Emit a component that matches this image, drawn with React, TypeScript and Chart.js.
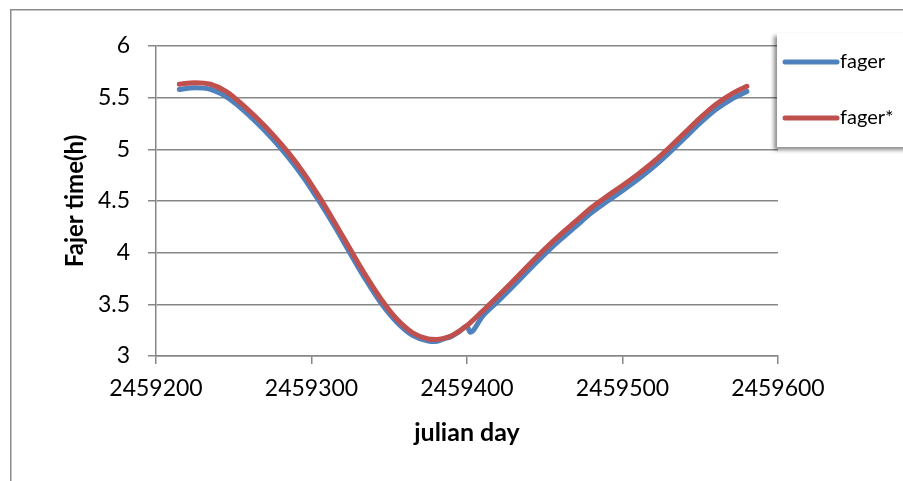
import React, { useEffect, useRef } from "react";
import { Chart, registerables } from "chart.js";

Chart.register(...registerables);

const days: number[] = [
  2459215, 2459225, 2459235, 2459245, 2459255, 2459265, 2459275, 2459285, 2459295, 2459305,
  2459315, 2459325, 2459335, 2459345, 2459355, 2459365, 2459375, 2459380, 2459385, 2459390,
  2459395, 2459400, 2459402, 2459410, 2459420, 2459430, 2459440, 2459450, 2459460, 2459470,
  2459480, 2459490, 2459500, 2459510, 2459520, 2459530, 2459540, 2459550, 2459560, 2459570,
  2459580,
];

const fager: number[] = [
  5.58, 5.595, 5.58, 5.51, 5.395, 5.255, 5.1, 4.925, 4.725, 4.495,
  4.25, 3.99, 3.735, 3.505, 3.325, 3.2, 3.145, 3.14, 3.165, 3.19,
  3.235, 3.29, 3.23, 3.385, 3.53, 3.68, 3.835, 3.985, 4.125, 4.255,
  4.385, 4.495, 4.6, 4.71, 4.83, 4.965, 5.11, 5.255, 5.385, 5.485,
  5.56,
];

const fagerStar: number[] = [
  5.63, 5.645, 5.63, 5.56, 5.44, 5.3, 5.145, 4.97, 4.77, 4.54,
  4.29, 4.03, 3.775, 3.545, 3.355, 3.225, 3.165, 3.16, 3.17, 3.195,
  3.24, 3.295, 3.32, 3.435, 3.58, 3.73, 3.885, 4.035, 4.175, 4.305,
  4.435, 4.545, 4.65, 4.76, 4.88, 5.015, 5.16, 5.305, 5.435, 5.535,
  5.61,
];

const seriesNames = ["fager", "fager*"];
const seriesColors = ["#4F81BD", "#C0504D"];
const xTitle = "julian day";
const yTitle = "Fajer time(h)";

const FONT = "Lato, 'Open Sans', sans-serif";
const GRID = "#878787";

const framePlugin = {
  id: "frame",
  beforeDraw(chart: any) {
    const ctx = chart.ctx;
    ctx.save();
    ctx.fillStyle = "#ffffff";
    ctx.fillRect(0, 0, chart.width, chart.height);
    ctx.strokeStyle = "#8c8c8c";
    ctx.lineWidth = 1.5;
    ctx.strokeRect(10.75, 9.75, 1000, 1000);
    ctx.restore();
  },
};

const legendPlugin = {
  id: "customLegend",
  afterDraw(chart: any) {
    const ctx = chart.ctx;
    ctx.save();
    ctx.shadowColor = "rgba(0,0,0,0.45)";
    ctx.shadowBlur = 4;
    ctx.shadowOffsetX = -3;
    ctx.shadowOffsetY = 3;
    ctx.fillStyle = "#ffffff";
    ctx.fillRect(777, 33, 140, 114);
    ctx.restore();
    ctx.save();
    const rows = [62, 118];
    rows.forEach((y, i) => {
      ctx.strokeStyle = seriesColors[i];
      ctx.lineWidth = 5;
      ctx.lineCap = "round";
      ctx.beginPath();
      ctx.moveTo(785, y);
      ctx.lineTo(837, y);
      ctx.stroke();
      ctx.fillStyle = "#000000";
      ctx.font = `20px ${FONT}`;
      ctx.textBaseline = "middle";
      ctx.textAlign = "left";
      ctx.fillText(seriesNames[i], 840, y);
    });
    ctx.restore();
  },
};

export default function App() {
  const ref = useRef<HTMLCanvasElement | null>(null);
  useEffect(() => {
    if (!ref.current) return;
    const mk = (vals: number[]) => days.map((d, i) => ({ x: d, y: vals[i] }));
    const chart = new Chart(ref.current, {
      type: "line",
      data: {
        datasets: [
          {
            label: seriesNames[0],
            data: mk(fager),
            borderColor: seriesColors[0],
            backgroundColor: seriesColors[0],
            borderWidth: 5,
            pointRadius: 0,
            cubicInterpolationMode: "monotone",
            borderCapStyle: "round",
            borderJoinStyle: "round",
            order: 1,
          },
          {
            label: seriesNames[1],
            data: mk(fagerStar),
            borderColor: seriesColors[1],
            backgroundColor: seriesColors[1],
            borderWidth: 5,
            pointRadius: 0,
            cubicInterpolationMode: "monotone",
            borderCapStyle: "round",
            borderJoinStyle: "round",
            order: 0,
          },
        ],
      },
      options: {
        responsive: false,
        animation: false,
        layout: { padding: { left: 0, right: 125, top: 46, bottom: 0 } },
        plugins: { legend: { display: false }, tooltip: { enabled: false } },
        scales: {
          x: {
            type: "linear",
            min: 2459200,
            max: 2459600,
            afterFit: (s: any) => { s.height = 125; },
            ticks: {
              stepSize: 100,
              color: "#000000",
              font: { family: FONT, size: 23 },
              padding: 11,
              maxRotation: 0,
              callback: (v: any) => String(v),
            },
            grid: { display: true, drawOnChartArea: false, drawTicks: true, tickLength: 8, color: GRID, lineWidth: 1.5 },
            border: { display: true, color: GRID, width: 1.5 },
            title: {
              display: true,
              text: xTitle,
              color: "#000000",
              font: { family: FONT, size: 25, weight: "bold" },
              padding: { top: 0, bottom: 33 },
            },
          },
          y: {
            type: "linear",
            min: 3,
            max: 6,
            afterFit: (s: any) => { s.width = 156; },
            ticks: {
              stepSize: 0.5,
              color: "#000000",
              font: { family: FONT, size: 23 },
              padding: 18,
              callback: (v: any) => String(v),
            },
            grid: { display: true, drawTicks: true, tickLength: 8, color: GRID, lineWidth: 1.5 },
            border: { display: true, color: GRID, width: 1.5 },
            title: {
              display: true,
              text: yTitle,
              color: "#000000",
              font: { family: FONT, size: 24, weight: "bold" },
              padding: { top: 61, bottom: 0 },
            },
          },
        },
      },
      plugins: [framePlugin, legendPlugin],
    } as any);
    return () => chart.destroy();
  }, []);
  return (
    <div style={{ position: "fixed", left: 0, top: 0, width: 903, height: 481 }}>
      <canvas ref={ref} width={903} height={481} style={{ width: 903, height: 481, display: "block" }} />
    </div>
  );
}
